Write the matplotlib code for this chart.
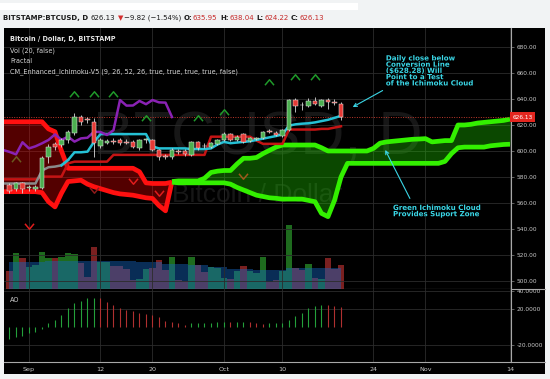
import numpy as np
import matplotlib.pyplot as plt
import matplotlib.transforms as mtrans
import matplotlib.patheffects as pe
from matplotlib.patches import Rectangle
from matplotlib.lines import Line2D
from matplotlib.path import Path

plt.rcParams['font.family'] = ['DejaVu Sans']

# ---- data; day index 0 = 1 Sep 2016 ----
candle_days = np.arange(-3, 49)
opens = [573.5, 570.5, 575.5, 571.7, 571.0, 571.5, 595.6, 605.4, 604.6, 608.5,
         613.6, 626.4, 624.0, 622.0, 603.8, 606.5, 607.8, 608.5, 606.9, 607.2,
         602.0, 608.3, 608.5, 600.8, 595.9, 595.6, 599.7, 600.3, 596.9, 606.7,
         604.0, 603.3, 605.2, 608.5, 612.8, 608.5, 612.8, 607.7, 609.0, 609.7,
         615.0, 614.0, 611.8, 616.0, 639.2, 635.3, 634.9, 638.5, 634.9, 639.2,
         637.5, 635.95]
highs = [575.0, 576.0, 576.5, 574.0, 574.0, 596.0, 605.0, 607.0, 610.0, 616.0,
         629.0, 628.0, 626.0, 625.0, 610.0, 609.0, 610.0, 610.0, 609.0, 608.5,
         609.5, 610.0, 609.5, 601.5, 598.0, 602.0, 601.5, 601.5, 608.0, 607.5,
         606.0, 607.0, 609.5, 614.5, 614.0, 612.0, 613.5, 610.5, 611.0, 615.5,
         617.0, 615.0, 617.0, 640.0, 641.0, 638.0, 641.0, 641.5, 640.0, 641.0,
         640.0, 638.04]
lows = [568.0, 569.5, 567.5, 569.0, 569.0, 570.5, 590.5, 601.0, 603.0, 606.0,
        612.0, 620.0, 621.5, 595.6, 602.0, 605.0, 605.5, 604.5, 605.0, 602.0,
        601.0, 606.5, 600.0, 593.0, 593.5, 594.0, 598.0, 596.5, 596.0, 601.0,
        602.5, 602.5, 604.5, 607.5, 607.5, 607.5, 606.5, 607.0, 608.5, 609.0,
        613.5, 611.5, 611.0, 615.5, 630.0, 631.5, 634.0, 635.5, 634.0, 632.0,
        635.0, 624.22]
closes = [569.5, 575.0, 570.5, 572.3, 572.5, 594.5, 603.3, 603.3, 608.5, 614.8,
          626.4, 622.0, 623.8, 605.9, 608.5, 607.5, 607.3, 605.9, 606.5, 603.3,
          608.5, 608.7, 600.8, 595.6, 595.4, 600.8, 599.3, 597.4, 606.7, 602.0,
          603.6, 605.9, 608.5, 612.8, 608.5, 611.0, 607.2, 609.7, 610.2, 614.8,
          614.6, 612.3, 616.0, 639.2, 634.9, 635.0, 638.5, 636.0, 639.2, 637.4,
          637.2, 626.13]

volume = [18.3, 35.7, 31.3, 22.3, 24.0, 37.0, 31.0, 31.0, 32.0, 35.7,
          35.0, 26.3, 11.7, 42.3, 27.3, 27.3, 23.0, 23.0, 20.0, 9.0,
          9.7, 20.0, 21.0, 29.0, 19.0, 32.0, 9.0, 8.0, 32.0, 24.0,
          17.0, 22.0, 21.0, 11.0, 10.0, 18.0, 23.0, 18.0, 16.0, 32.0,
          7.0, 9.0, 18.0, 64.0, 20.7, 19.0, 25.0, 11.0, 10.0, 31.0,
          20.0, 24.0]
volume_ma = [27.0, 27.5, 27.5, 27.5, 27.5, 27.5, 28.0, 28.0, 28.0, 28.0,
             28.0, 28.0, 28.0, 28.5, 28.5, 28.5, 28.5, 28.5, 28.5, 28.5,
             27.5, 27.5, 27.5, 27.5, 25.5, 25.5, 25.5, 25.5, 24.0, 24.0,
             24.0, 22.0, 22.0, 22.0, 20.5, 20.5, 20.5, 20.5, 19.5, 19.5,
             19.5, 19.5, 19.5, 21.0, 21.0, 21.0, 21.0, 21.0, 21.0, 21.0,
             21.0, 21.0]

ao = [-14.0, -11.5, -10.0, -7.4, -6.0, -3.0, 3.7, 7.4, 13.0, 20.4,
      26.0, 28.5, 31.5, 32.2, 31.5, 27.8, 24.0, 20.4, 18.5, 17.4,
      14.8, 13.7, 13.0, 10.4, 6.7, 5.6, 3.7, 1.9, 3.7, 4.4,
      4.5, 4.6, 5.2, 5.6, 5.3, 5.5, 5.7, 5.0, 4.0, 3.0,
      3.7, 3.9, 4.3, 8.0, 11.8, 15.5, 20.4, 23.0, 24.3, 24.0,
      23.5, 22.0]

line_days = np.arange(-4, 49)
conversion = [575.0, 575.0, 575.0, 575.0, 575.0, 575.0, 585.0, 587.5, 588.0, 589.0,
              593.0, 599.0, 599.0, 599.5, 607.0, 613.0, 613.0, 613.0, 613.0, 613.0,
              613.0, 613.0, 613.0, 603.5, 602.0, 602.0, 602.0, 602.0, 602.0, 601.5,
              601.5, 601.5, 602.0, 605.0, 607.0, 606.0, 606.5, 607.0, 607.5, 608.5,
              609.5, 610.5, 611.5, 612.8, 619.5, 620.5, 621.0, 621.3, 622.0, 623.0,
              624.0, 625.5, 627.0]
base = [578.2, 578.2, 578.2, 578.2, 578.2, 578.2, 580.3, 580.3, 580.3, 580.3,
        590.5, 591.8, 591.8, 591.8, 591.8, 591.8, 591.8, 597.0, 597.0, 597.0,
        597.0, 597.0, 597.0, 597.0, 597.0, 597.0, 597.0, 597.0, 597.0, 597.0,
        597.0, 597.0, 611.0, 611.0, 611.0, 611.0, 611.0, 611.0, 611.0, 608.0,
        605.5, 605.5, 605.5, 605.5, 616.5, 616.5, 616.5, 616.5, 616.5, 617.0,
        617.0, 618.0, 619.0]

cloud_days = np.arange(-4, 75)
span_a = [568.7, 568.7, 568.7, 568.7, 568.7, 568.7, 568.0, 561.0, 557.0, 567.6,
          576.5, 577.0, 577.5, 574.5, 572.5, 571.0, 569.5, 568.0, 567.0, 566.5,
          566.0, 565.0, 564.0, 563.5, 558.0, 554.0, 576.5, 577.0, 577.0, 577.0,
          577.0, 579.0, 583.5, 584.5, 585.0, 585.0, 590.0, 594.4, 594.4, 595.0,
          598.0, 600.5, 603.0, 604.6, 604.6, 604.6, 604.6, 604.6, 604.6, 602.5,
          600.0, 600.0, 600.0, 600.0, 600.0, 600.0, 600.0, 602.0, 606.0, 607.0,
          607.5, 608.0, 608.5, 609.0, 609.2, 609.5, 607.0, 607.5, 608.0, 608.0,
          620.0, 620.0, 620.5, 621.5, 622.0, 622.5, 623.0, 623.5, 624.5]
span_b = [622.5, 622.5, 622.5, 622.5, 622.5, 622.5, 622.5, 617.0, 614.8, 600.0,
          586.7, 586.7, 586.7, 586.7, 586.7, 586.7, 586.7, 586.7, 586.7, 586.7,
          586.7, 584.0, 575.5, 575.0, 575.0, 575.0, 576.0, 575.5, 575.5, 575.5,
          575.5, 575.5, 575.5, 575.5, 575.5, 574.5, 572.0, 570.0, 568.0, 566.0,
          565.0, 564.0, 563.6, 563.0, 563.0, 563.0, 563.0, 562.0, 561.0, 552.0,
          549.5, 562.0, 580.0, 590.5, 590.5, 590.5, 590.5, 590.5, 590.5, 590.5,
          590.5, 590.5, 590.5, 590.5, 590.5, 590.5, 590.5, 590.5, 592.0, 598.0,
          602.5, 603.0, 603.0, 603.0, 603.0, 604.0, 604.5, 605.0, 605.2]

frac_up_days = [-2, 7, 10, 13, 18, 26, 30, 37, 41, 44]
frac_up_price = [593.8, 643.8, 643.8, 643.8, 625.4, 625.4, 630.0, 653.0, 657.0, 657.0]
frac_dn_days = [0, 10, 16, 20, 33]
frac_dn_price = [542.3, 570.0, 577.0, 567.7, 580.8]

date_ticks = [0, 11, 19, 30, 39, 53, 61, 74]
date_labels = ['Sep', '12', '20', 'Oct', '10', '24', 'Nov', '14']
price_ticks = list(range(500, 681, 20))
ao_ticks = [40, 20, -20]
last_close = 626.13

# ---- layout (pixel based) ----
W, H = 550.0, 379.0
def fx(px): return px / W
def fy(py): return 1 - py / H

fig = plt.figure(figsize=(5.5, 3.79), dpi=100, facecolor='#f1f3f4')
fig.add_artist(Rectangle((fx(4), fy(374)), fx(545) - fx(4), fy(28) - fy(374),
                         transform=fig.transFigure, facecolor='black', edgecolor='none', zorder=-5))
fig.add_artist(Rectangle((0, fy(10)), fx(358), fy(3) - fy(10), transform=fig.transFigure,
                         facecolor='white', edgecolor='none', zorder=-4))

main_rect = [fx(4), fy(289), fx(511) - fx(4), fy(28) - fy(289)]
ao_rect = [fx(4), fy(362), fx(511) - fx(4), fy(289) - fy(362)]
xlim = (-3.846, 74.154)

ax_v = fig.add_axes(main_rect, facecolor='black')
ax1 = fig.add_axes(main_rect, facecolor='none')
ax2 = fig.add_axes(ao_rect, facecolor='black')

grid_c = '#2c2c2c'
lab_c = '#c8c8c8'
sep_c = '#a8a8a8'

# volume layer + watermark
ax_v.set_xlim(xlim)
ax_v.set_ylim(0, 261)
ax_v.set_xticks([]); ax_v.set_yticks([])
for s in ax_v.spines.values():
    s.set_visible(False)
ax_v.text(0.5, 0.575, 'BTCUSD, D', transform=ax_v.transAxes, ha='center', va='center',
          fontsize=44, color='#171717', family='Liberation Sans')
ax_v.text(0.5, 0.36, 'Bitcoin / Dollar', transform=ax_v.transAxes, ha='center', va='center',
          fontsize=19, color='#171717', family='Liberation Sans')
up = np.array(closes) >= np.array(opens)
ax_v.bar(candle_days, volume, width=1.0, color=np.where(up, '#1e6b1e', '#7a2020'), zorder=1)
ax_v.fill_between(candle_days, 0, volume_ma, step='mid', color='#1565c0', alpha=0.45,
                  lw=0, zorder=2)

# main price panel
ax1.set_xlim(xlim)
ax1.set_ylim(493.85, 694.6)
ax1.set_axisbelow(True)
ax1.grid(True, color=grid_c, lw=0.6)
ax1.set_xticks(date_ticks)
ax1.tick_params(axis='x', length=0, labelbottom=False)
ax1.yaxis.tick_right()
ax1.set_yticks(price_ticks)
ax1.set_yticklabels([f'{p:.2f}' for p in price_ticks])
ax1.tick_params(axis='y', length=2, width=0.5, color='#888888', labelsize=4.2,
                labelcolor=lab_c, pad=2)
for k in ['top', 'left']:
    ax1.spines[k].set_visible(False)
ax1.spines['right'].set_color(sep_c); ax1.spines['right'].set_linewidth(0.8)
ax1.spines['bottom'].set_color(sep_c); ax1.spines['bottom'].set_linewidth(0.8)

# ichimoku cloud
sa = np.array(span_a); sb = np.array(span_b)
bull = sa >= sb
ax1.fill_between(cloud_days, sa, sb, where=~bull, interpolate=True, color='#ff0000',
                 alpha=0.33, lw=0, zorder=1)
ax1.fill_between(cloud_days, sa, sb, where=bull, interpolate=True, color='#22dd00',
                 alpha=0.33, lw=0, zorder=1)
cross = int(np.argmax(bull))
for series in (sa, sb):
    ax1.plot(cloud_days[:cross + 1], series[:cross + 1], color='#ff1010', lw=3.4,
             solid_capstyle='butt', zorder=2)
    ax1.plot(cloud_days[cross:], series[cross:], color='#33f000', lw=3.4,
             solid_capstyle='butt', zorder=2)

# conversion / base / lagging
ax1.plot(line_days, base, color='#c41414', lw=1.8, zorder=3)
conv = np.array(conversion)
ax1.plot(line_days[:11], conv[:11], color='#8a8a8a', lw=1.8, zorder=3)
ax1.plot(line_days[9:], conv[9:], color='#25c0d4', lw=1.8, zorder=3)
ax1.plot(candle_days[25:] - 26, closes[25:], color='#8a22b4', lw=1.8, zorder=3)

ax1.axhline(last_close, color='#c0392b', lw=0.7, ls=(0, (1, 1.5)), zorder=2)

# candles
o = np.array(opens); c = np.array(closes)
ax1.vlines(candle_days, lows, highs, color='#d8d8d8', lw=0.6, zorder=4)
body_lo = np.minimum(o, c)
body_h = np.maximum(np.abs(c - o), 0.6)
ax1.bar(candle_days, body_h, bottom=body_lo, width=0.62,
        color=np.where(up, '#4caf50', '#e53935'), edgecolor='#e6e6e6', lw=0.35, zorder=5)

# fractals
chev_up = Path([(-1, -0.6), (0, 0.6), (1, -0.6)], [Path.MOVETO, Path.LINETO, Path.LINETO])
chev_dn = Path([(-1, 0.6), (0, -0.6), (1, 0.6)], [Path.MOVETO, Path.LINETO, Path.LINETO])
up_cols = ['#6b5a1e'] + ['#1f9a2a'] * 9
dn_cols = ['#e01c1c', '#8c1a1a', '#e01c1c', '#e01c1c', '#a0581c']
for d, p, col in zip(frac_up_days, frac_up_price, up_cols):
    ax1.plot(d, p, ls='none', marker=chev_up, ms=6.5, mew=1.1, mfc='none', mec=col, zorder=6)
for d, p, col in zip(frac_dn_days, frac_dn_price, dn_cols):
    ax1.plot(d, p, ls='none', marker=chev_dn, ms=6.5, mew=1.1, mfc='none', mec=col, zorder=6)

# legend lines
legend_lines = ['Bitcoin / Dollar, D, BITSTAMP', 'Vol (20, false)', 'Fractal',
                'CM_Enhanced_Ichimoku-V5 (9, 26, 52, 26, true, true, true, true, false)']
for i, (txt, yp) in enumerate(zip(legend_lines, [39, 50.5, 61, 71.5])):
    ax1.text(0.0118, 1 - (yp - 28) / 261, txt, transform=ax1.transAxes, va='center',
             ha='left', fontsize=4.7, color='#e6e6e6' if i == 0 else '#d4d4d4',
             fontweight='bold' if i == 0 else 'normal')

# last price tag
blend = mtrans.blended_transform_factory(ax1.transAxes, ax1.transData)
ax1.text(1.003, last_close, f'{last_close:.2f}', transform=blend, ha='left', va='center',
         fontsize=4.2, color='white', clip_on=False, zorder=10,
         bbox=dict(boxstyle='square,pad=0.35', fc='#e3261f', ec='none'))

# annotations
cyan = '#3ad6e6'
stroke = [pe.withStroke(linewidth=1.2, foreground='black')]
ax1.text(54.9, 673.5, 'Daily close below\nConversion Line\n(\\$628.28) Will\nPoint to a Test\nof the Ichimoku Cloud',
         ha='left', va='top', fontsize=5.1, fontweight='bold', color=cyan, linespacing=1.05,
         path_effects=stroke, zorder=8)
ax1.annotate('', xy=(49.8, 633.8), xytext=(54.4, 646.5),
             arrowprops=dict(arrowstyle='->', color=cyan, lw=0.8, shrinkA=0, shrinkB=0,
                             mutation_scale=6), zorder=8)
ax1.text(56.0, 558.5, 'Green Ichimoku Cloud\nProvides Suport Zone', ha='left', va='top',
         fontsize=5.1, fontweight='bold', color=cyan, linespacing=1.05,
         path_effects=stroke, zorder=8)
ax1.annotate('', xy=(54.8, 600.8), xytext=(58.6, 563.5),
             arrowprops=dict(arrowstyle='->', color=cyan, lw=0.8, shrinkA=0, shrinkB=0,
                             mutation_scale=6), zorder=8)

# AO panel
ax2.set_xlim(xlim)
ax2.set_ylim(-39.2, 41.9)
ao_arr = np.array(ao)
rising = np.concatenate([[True], np.diff(ao_arr) >= 0])
ax2.vlines(candle_days, 0, ao_arr, colors=np.where(rising, '#24a03a', '#b03030'), lw=0.8)
ax2.set_xticks(date_ticks)
ax2.set_xticklabels(date_labels)
ax2.tick_params(axis='x', length=0, labelsize=4.6, labelcolor=lab_c, pad=3.5)
ax2.yaxis.tick_right()
ax2.set_yticks(ao_ticks)
ax2.set_yticklabels([f'{v:.4f}' for v in ao_ticks])
ax2.tick_params(axis='y', length=2, width=0.5, color='#888888', labelsize=4.2,
                labelcolor=lab_c, pad=2)
ax2.grid(True, color=grid_c, lw=0.6)
ax2.set_axisbelow(True)
for k in ['top', 'left']:
    ax2.spines[k].set_visible(False)
ax2.spines['right'].set_color(sep_c); ax2.spines['right'].set_linewidth(0.8)
ax2.spines['bottom'].set_color(sep_c); ax2.spines['bottom'].set_linewidth(0.8)
ax2.text(0.0118, 0.85, 'AO', transform=ax2.transAxes, fontsize=4.7, color='#cfcfcf',
         va='center', ha='left')

# separators continued under the price scale
for yp in (289, 362):
    fig.add_artist(Line2D([fx(511), fx(545)], [fy(yp), fy(yp)], transform=fig.transFigure,
                          color=sep_c, lw=0.8))

# header line
pieces = [('BITSTAMP:BTCUSD, D', 'bold', '#1a1a1a', 0),
          ('626.13', 'normal', '#1a1a1a', 2.0),
          ('\u25bc', 'normal', '#d32f2f', 1.5),
          ('\u22129.82 (\u22121.54%)', 'normal', '#1a1a1a', 0.5),
          ('O:', 'bold', '#1a1a1a', 2.0), ('635.95', 'normal', '#c62828', 0.3),
          ('H:', 'bold', '#1a1a1a', 2.0), ('638.04', 'normal', '#c62828', 0.3),
          ('L:', 'bold', '#1a1a1a', 2.0), ('624.22', 'normal', '#c62828', 0.3),
          ('C:', 'bold', '#1a1a1a', 2.0), ('626.13', 'normal', '#c62828', 0.3)]
prev = None
for txt, wt, col, gap in pieces:
    if prev is None:
        prev = fig.text(fx(3), fy(18), txt, fontsize=5.05, fontweight=wt, color=col,
                        va='center', ha='left')
    else:
        prev = ax1.annotate(txt, xy=(1, 0.5), xycoords=prev, xytext=(gap, 0),
                            textcoords='offset points', fontsize=5.05, fontweight=wt,
                            color=col, va='center', ha='left', annotation_clip=False)

fig.savefig('out.png', dpi=100, facecolor=fig.get_facecolor())
